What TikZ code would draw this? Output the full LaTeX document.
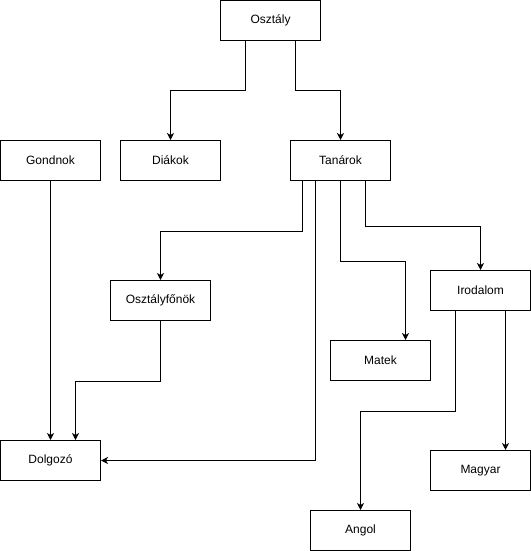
\documentclass[tikz,border=0pt]{standalone}
\usepackage{fontspec}
\setmainfont{Liberation Sans}
\usetikzlibrary{arrows.meta}
\tikzset{
  every picture/.style={line join=miter, line width=1bp, >={Stealth[length=7bp,width=7bp,inset=2bp]}},
  box/.style={draw, rectangle, minimum width=100bp, minimum height=40bp, inner sep=0pt, font=\fontsize{12bp}{14bp}\selectfont},
}

\begin{document}
\begin{tikzpicture}[x=1bp,y=-1bp]
\useasboundingbox (-0.5,-0.5) rectangle (530.5,550.5);
\node[box](osztaly) at (270,20){Osztály};
\node[box](gondnok) at (50,160){Gondnok};
\node[box](diakok) at (170,160){Diákok};
\node[box](tanarok) at (340,160){Tanárok};
\node[box](ofonok) at (160,300){Osztályfőnök};
\node[box](irodalom) at (480,290){Irodalom};
\node[box](matek) at (380,360){Matek};
\node[box](dolgozo) at (50,460){Dolgozó};
\node[box](magyar) at (480,470){Magyar};
\node[box](angol) at (360,530){Angol};
\draw[->]([xshift=-25bp]osztaly.south)--++(0,50)-|(diakok.north);
\draw[->]([xshift=25bp]osztaly.south)--++(0,50)-|(tanarok.north);
\draw[->](gondnok.south)--(dolgozo.north);
\draw[->]([xshift=-38bp]tanarok.south)--++(0,50)-|(ofonok.north);
\draw[->]([xshift=-25bp]tanarok.south)|-(dolgozo.east);
\draw[->](tanarok.south)--++(0,80)-|([xshift=25bp]matek.north);
\draw[->]([xshift=25bp]tanarok.south)--++(0,45)-|(irodalom.north);
\draw[->](ofonok.south)--++(0,60)-|([xshift=25bp]dolgozo.north);
\draw[->]([xshift=-25bp]irodalom.south)--++(0,100)-|(angol.north);
\draw[->]([xshift=25bp]irodalom.south)--([xshift=25bp]magyar.north);
\end{tikzpicture}
\end{document}
